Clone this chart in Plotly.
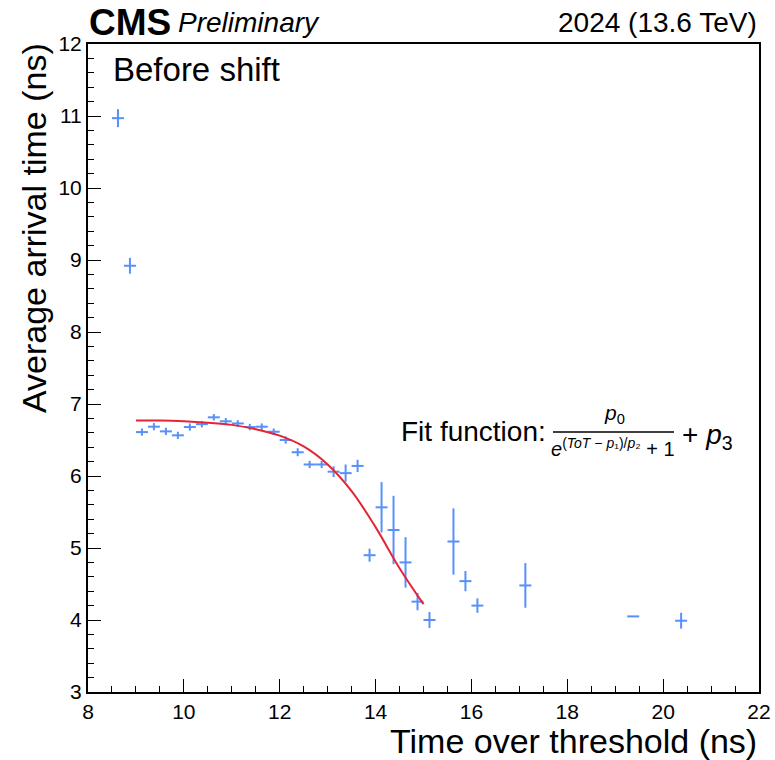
import plotly.graph_objects as go

# ---- data ----
tot_bins = [8.625, 8.875, 9.125, 9.375, 9.625, 9.875, 10.125, 10.375, 10.625, 10.875,
            11.125, 11.375, 11.625, 11.875, 12.125, 12.375, 12.625, 12.875, 13.125, 13.375,
            13.625, 13.875, 14.125, 14.375, 14.625, 14.875, 15.125, 15.625, 15.875, 16.125,
            17.125, 19.375, 20.375]
arrival = [10.97, 8.92, 6.61, 6.685, 6.62, 6.565, 6.68, 6.72, 6.815, 6.76,
           6.73, 6.68, 6.685, 6.615, 6.50, 6.33, 6.16, 6.16, 6.06, 6.04,
           6.14, 4.90, 5.565, 5.25, 4.80, 4.255, 4.00, 5.09, 4.54, 4.20,
           4.48, 4.05, 3.99]
arrival_err = [0.125, 0.11, 0.05, 0.05, 0.05, 0.05, 0.05, 0.045, 0.045, 0.045,
               0.045, 0.045, 0.045, 0.045, 0.05, 0.055, 0.05, 0.05, 0.075, 0.12,
               0.085, 0.09, 0.35, 0.475, 0.35, 0.12, 0.11, 0.46, 0.14, 0.10,
               0.31, 0.0, 0.11]
bin_half_width = 0.125

# fit curve
fit_x = [9.0, 9.5, 10.0, 10.5, 11.0, 11.5, 12.0, 12.5, 13.0, 13.5, 14.0, 14.5, 15.0]
fit_y = [6.77, 6.77, 6.76, 6.74, 6.71, 6.65, 6.56, 6.41, 6.16, 5.79, 5.29, 4.72, 4.22]

x_ticks = [8, 10, 12, 14, 16, 18, 20, 22]
y_ticks = [3, 4, 5, 6, 7, 8, 9, 10, 11, 12]

BLUE = "#5790fc"
RED = "#e42536"
FONT = "Liberation Sans"

# plot area in pixels
W, H = 775, 760
L, R, T, B = 88, 759, 44, 692


def px(xp):
    return (xp - L) / (R - L)


def py(yp):
    return (B - yp) / (B - T)


fig = go.Figure()
fig.add_trace(go.Scatter(
    x=tot_bins, y=arrival, mode="markers",
    marker=dict(size=0.1, color=BLUE),
    error_x=dict(type="constant", value=bin_half_width, color=BLUE, thickness=2, width=0),
    error_y=dict(type="data", array=arrival_err, color=BLUE, thickness=2, width=0),
    showlegend=False, hoverinfo="x+y",
))
fig.add_trace(go.Scatter(
    x=fit_x, y=fit_y, mode="lines",
    line=dict(color=RED, width=2, shape="spline", smoothing=1.0),
    showlegend=False,
))

axis_common = dict(
    showgrid=False, zeroline=False, showline=True, linecolor="black", linewidth=2,
    mirror=True, ticks="inside", tickcolor="black", tickwidth=1, ticklen=13,
    tickfont=dict(family=FONT, size=21, color="black"), automargin=False,
)
fig.update_xaxes(range=[8, 22], tickvals=x_ticks, ticktext=[str(v) for v in x_ticks],
                 minor=dict(ticks="inside", dtick=0.5, ticklen=6, tickcolor="black", tickwidth=1),
                 **axis_common)
fig.update_yaxes(range=[3, 12], tickvals=y_ticks, ticktext=[str(v) for v in y_ticks],
                 minor=dict(ticks="inside", dtick=0.2, ticklen=6, tickcolor="black", tickwidth=1),
                 **axis_common)

ann = []
# CMS Preliminary
ann.append(dict(text="<b>CMS</b>", x=px(87), y=py(22), xref="paper", yref="paper",
                xanchor="left", yanchor="middle", showarrow=False,
                font=dict(family=FONT, size=37, color="black")))
ann.append(dict(text="<i>Preliminary</i>", x=px(176), y=py(23), xref="paper", yref="paper",
                xanchor="left", yanchor="middle", showarrow=False,
                font=dict(family=FONT, size=28, color="black")))
ann.append(dict(text="2024 (13.6 TeV)", x=px(759), y=py(22), xref="paper", yref="paper",
                xanchor="right", yanchor="middle", showarrow=False,
                font=dict(family=FONT, size=28, color="black")))
ann.append(dict(text="Before shift", x=px(111), y=py(70), xref="paper", yref="paper",
                xanchor="left", yanchor="middle", showarrow=False,
                font=dict(family=FONT, size=33, color="black")))
# axis titles
ann.append(dict(text="Time over threshold (ns)", x=px(759), y=py(741), xref="paper", yref="paper",
                xanchor="right", yanchor="middle", showarrow=False,
                font=dict(family=FONT, size=34, color="black")))
ann.append(dict(text="Average arrival time (ns)", x=px(34), y=py(228), xref="paper", yref="paper",
                xanchor="center", yanchor="middle", showarrow=False, textangle=-90,
                font=dict(family=FONT, size=34, color="black")))
# fit function text
ann.append(dict(text="Fit function:", x=px(399), y=py(431), xref="paper", yref="paper",
                xanchor="left", yanchor="middle", showarrow=False,
                font=dict(family=FONT, size=28, color="black")))
ann.append(dict(text="<i>p</i><sub>0</sub>", x=px(614), y=py(414), xref="paper", yref="paper",
                xanchor="center", yanchor="middle", showarrow=False,
                font=dict(family=FONT, size=21, color="black")))
ann.append(dict(text="<i>e</i><sup>(<i>ToT</i> − <i>p</i>₁)/<i>p</i>₂</sup> + 1",
                x=px(613), y=py(447), xref="paper", yref="paper",
                xanchor="center", yanchor="middle", showarrow=False,
                font=dict(family=FONT, size=20, color="black")))
ann.append(dict(text="+ <i>p</i><sub>3</sub>", x=px(680), y=py(437), xref="paper", yref="paper",
                xanchor="left", yanchor="middle", showarrow=False,
                font=dict(family=FONT, size=28, color="black")))

fig.add_shape(type="line", xref="paper", yref="paper",
              x0=px(553), x1=px(674), y0=py(432), y1=py(432),
              line=dict(color="black", width=1.5))

fig.update_layout(
    width=W, height=H,
    margin=dict(l=L, r=W - R, t=T, b=H - B, pad=0, autoexpand=False),
    paper_bgcolor="white", plot_bgcolor="white",
    annotations=ann,
    font=dict(family=FONT, color="black"),
)

fig.write_html("out.html")
